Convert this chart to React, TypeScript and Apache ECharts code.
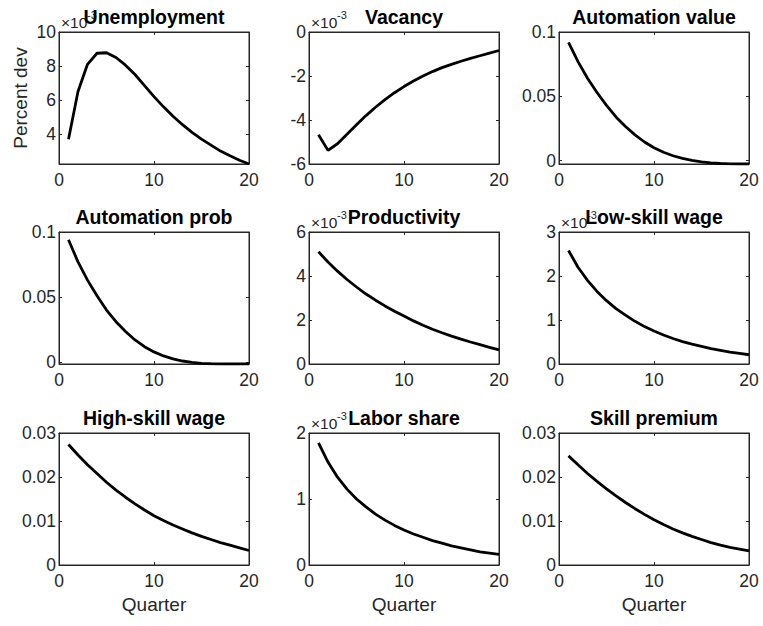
import React, { useEffect, useRef } from "react";
import * as echarts from "echarts";

// Quarters on the x axis
const quarters = [1, 2, 3, 4, 5, 6, 7, 8, 9, 10, 11, 12, 13, 14, 15, 16, 17, 18, 19, 20];

const titles = [
  "Unemployment",
  "Vacancy",
  "Automation value",
  "Automation prob",
  "Productivity",
  "Low-skill wage",
  "High-skill wage",
  "Labor share",
  "Skill premium",
];

// values for panels marked ×10^-3 are given in units of 10^-3
const unemployment = [3.7, 6.5, 8.1, 8.75, 8.78, 8.5, 8.05, 7.5, 6.85, 6.2, 5.6, 5.05, 4.55, 4.1, 3.7, 3.35, 3.0, 2.72, 2.46, 2.24];
const vacancy = [-4.67, -5.38, -5.08, -4.65, -4.22, -3.8, -3.42, -3.07, -2.76, -2.48, -2.23, -2.0, -1.8, -1.62, -1.47, -1.33, -1.2, -1.08, -0.96, -0.84];
const automationValue = [0.092, 0.077, 0.064, 0.053, 0.043, 0.034, 0.0265, 0.02, 0.0145, 0.01, 0.0065, 0.0038, 0.0017, 0.0002, -0.0009, -0.0017, -0.0022, -0.0025, -0.0026, -0.0026];
const automationProb = [0.094, 0.077, 0.063, 0.051, 0.04, 0.031, 0.0235, 0.017, 0.0118, 0.0078, 0.0047, 0.0024, 0.0008, -0.0003, -0.001, -0.0013, -0.0015, -0.0015, -0.0015, -0.0015];
const productivity = [5.1, 4.64, 4.22, 3.84, 3.5, 3.18, 2.9, 2.64, 2.4, 2.18, 1.96, 1.76, 1.58, 1.42, 1.27, 1.13, 1.0, 0.88, 0.76, 0.64];
const lowSkillWage = [2.58, 2.2, 1.9, 1.65, 1.44, 1.26, 1.11, 0.97, 0.85, 0.75, 0.66, 0.58, 0.51, 0.45, 0.4, 0.35, 0.31, 0.27, 0.24, 0.21];
const highSkillWage = [0.0274, 0.025, 0.0228, 0.0208, 0.0188, 0.017, 0.0154, 0.0139, 0.0125, 0.0112, 0.0101, 0.0091, 0.0082, 0.0073, 0.0065, 0.0058, 0.0051, 0.0045, 0.0039, 0.0033];
const laborShare = [1.85, 1.56, 1.33, 1.15, 1.0, 0.88, 0.77, 0.68, 0.6, 0.53, 0.47, 0.42, 0.37, 0.33, 0.29, 0.26, 0.23, 0.2, 0.18, 0.16];
const skillPremium = [0.0248, 0.0228, 0.0208, 0.019, 0.0173, 0.0157, 0.0142, 0.0128, 0.0115, 0.0103, 0.0092, 0.0082, 0.0073, 0.0065, 0.0058, 0.0051, 0.0045, 0.004, 0.0036, 0.0032];

const seriesValues = [
  unemployment, vacancy, automationValue,
  automationProb, productivity, lowSkillWage,
  highSkillWage, laborShare, skillPremium,
];

const hasExponent = [true, true, false, false, true, true, false, true, false];
const exponentText = "-3";

const yMin = [2.24, -6, -0.0026, -0.0015, 0, 0, 0, 0, 0];
const yMax = [10, 0, 0.1, 0.1, 6, 3, 0.03, 2, 0.03];
const yTicks = [
  [4, 6, 8, 10],
  [-6, -4, -2, 0],
  [0, 0.05, 0.1],
  [0, 0.05, 0.1],
  [0, 2, 4, 6],
  [0, 1, 2, 3],
  [0, 0.01, 0.02, 0.03],
  [0, 1, 2],
  [0, 0.01, 0.02, 0.03],
];
const xTicks = [0, 10, 20];

const xLabel = "Quarter";
const yLabel = "Percent dev";

const FONT = "'Liberation Sans', Arial, Helvetica, sans-serif";
const AX = "#262626";

export default function App() {
  const ref = useRef<HTMLDivElement>(null);

  useEffect(() => {
    if (!ref.current) return;
    const chart = echarts.init(ref.current, null, { renderer: "svg" });

    const colLeft = [59, 309, 559];
    const rowTop = [32, 232, 433];
    const W = 190;
    const H = 132;
    const tickFont = 17.5;

    const grids: any[] = [];
    const xAxes: any[] = [];
    const yAxes: any[] = [];
    const series: any[] = [];
    const graphics: any[] = [];

    for (let i = 0; i < 9; i++) {
      const r = Math.floor(i / 3);
      const c = i % 3;
      const left = colLeft[c];
      const top = rowTop[r];
      grids.push({
        left,
        top,
        width: W,
        height: H,
        show: true,
        borderColor: AX,
        borderWidth: 1,
        backgroundColor: "#fff",
        containLabel: false,
      });
      const tickStyle = { show: true, inside: true, length: 3, lineStyle: { color: AX, width: 1 } };
      xAxes.push({
        type: "value",
        gridIndex: i,
        position: "bottom",
        min: 0,
        max: 20,
        interval: 10,
        axisLine: { show: true, onZero: false, lineStyle: { color: AX, width: 1 } },
        axisTick: tickStyle,
        axisLabel: { color: AX, fontSize: tickFont, fontFamily: FONT, margin: 7, customValues: xTicks },
        splitLine: { show: false },
      });
      xAxes.push({
        type: "value",
        gridIndex: i,
        position: "top",
        min: 0,
        max: 20,
        interval: 10,
        axisLine: { show: true, onZero: false, lineStyle: { color: AX, width: 1 } },
        axisTick: tickStyle,
        axisLabel: { show: false },
        splitLine: { show: false },
      });
      yAxes.push({
        type: "value",
        gridIndex: i,
        position: "left",
        min: yMin[i],
        max: yMax[i],
        axisLine: { show: true, onZero: false, lineStyle: { color: AX, width: 1 } },
        axisTick: { ...tickStyle, customValues: yTicks[i] },
        axisLabel: { color: AX, fontSize: tickFont, fontFamily: FONT, margin: 3, customValues: yTicks[i] },
        splitLine: { show: false },
      });
      yAxes.push({
        type: "value",
        gridIndex: i,
        position: "right",
        min: yMin[i],
        max: yMax[i],
        axisLine: { show: true, onZero: false, lineStyle: { color: AX, width: 1 } },
        axisTick: { ...tickStyle, customValues: yTicks[i] },
        axisLabel: { show: false, customValues: yTicks[i] },
        splitLine: { show: false },
      });
      series.push({
        type: "line",
        xAxisIndex: 2 * i,
        yAxisIndex: 2 * i,
        data: quarters.map((q, k) => [q, seriesValues[i][k]]),
        symbol: "none",
        showSymbol: false,
        lineStyle: { color: "#000", width: 2.8 },
        clip: true,
        z: 5,
      });

      if (hasExponent[i]) {
        graphics.push({
          type: "text",
          x: left + 2,
          y: top - 10,
          z: 10,
          style: { text: "×10", fontSize: 15.5, fontFamily: FONT, fill: AX, align: "left", verticalAlign: "middle" },
        });
        graphics.push({
          type: "text",
          x: left + 28,
          y: top - 17,
          z: 10,
          style: { text: exponentText, fontSize: 11, fontFamily: FONT, fill: AX, align: "left", verticalAlign: "middle" },
        });
      }
      graphics.push({
        type: "text",
        x: left + W / 2,
        y: top - 15.5,
        z: 20,
        style: { text: titles[i], fontSize: 19.5, fontWeight: "bold", fontFamily: FONT, fill: "#000", align: "center", verticalAlign: "middle" },
      });
      if (r === 2) {
        graphics.push({
          type: "text",
          x: left + W / 2,
          y: 604,
          z: 10,
          style: { text: xLabel, fontSize: 19, fontFamily: FONT, fill: AX, align: "center", verticalAlign: "middle" },
        });
      }
    }

    graphics.push({
      type: "text",
      x: 20,
      y: 98,
      rotation: Math.PI / 2,
      z: 10,
      style: { text: yLabel, fontSize: 19, fontFamily: FONT, fill: AX, align: "center", verticalAlign: "middle" },
    });

    chart.setOption({
      animation: false,
      backgroundColor: "#fff",
      grid: grids,
      xAxis: xAxes,
      yAxis: yAxes,
      series,
      graphic: graphics,
    });

    return () => chart.dispose();
  }, []);

  return (
    <div
      ref={ref}
      style={{ position: "fixed", left: 0, top: 0, width: 763, height: 626, background: "#fff" }}
    />
  );
}
